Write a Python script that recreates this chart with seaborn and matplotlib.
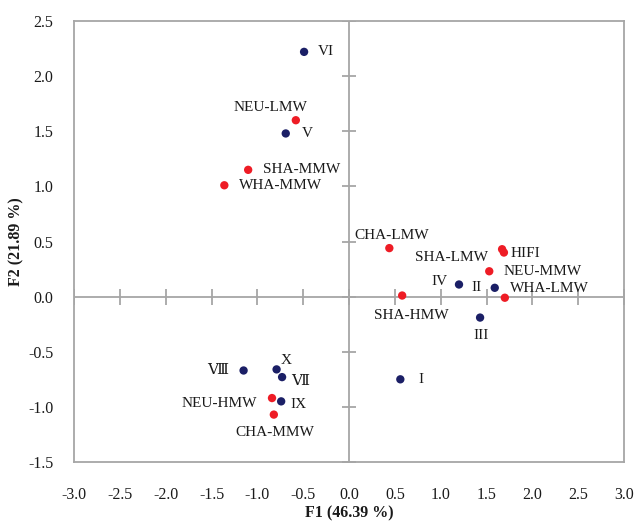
import matplotlib
matplotlib.use("Agg")
import matplotlib.pyplot as plt
import seaborn as sns
import pandas as pd
import numpy as np

# PCA scores on the first two factors
labels = ["VI", "NEU-LMW", "V", "SHA-MMW", "WHA-MMW", "CHA-LMW", "SHA-LMW", "HIFI",
          "NEU-MMW", "IV", "II", "WHA-LMW", "SHA-HMW", "III", "I", "Ⅷ", "X", "Ⅶ",
          "NEU-HMW", "IX", "CHA-MMW"]
f1 = [-0.49, -0.58, -0.69, -1.10, -1.36, 0.44, 1.67, 1.69,
      1.53, 1.20, 1.59, 1.70, 0.58, 1.43, 0.56, -1.15, -0.79, -0.73,
      -0.84, -0.74, -0.82]
f2 = [2.22, 1.60, 1.48, 1.15, 1.01, 0.44, 0.43, 0.40,
      0.23, 0.11, 0.08, -0.01, 0.01, -0.19, -0.75, -0.67, -0.66, -0.73,
      -0.92, -0.95, -1.07]
group = ["sample", "flour", "sample", "flour", "flour", "flour", "flour", "flour",
         "flour", "sample", "sample", "flour", "flour", "sample", "sample", "sample", "sample", "sample",
         "flour", "sample", "flour"]

x_ticks = np.arange(-3.0, 3.01, 0.5)
y_ticks = np.arange(-1.5, 2.51, 0.5)

# label placement: (dx, dy) in pixels, horizontal alignment
label_pos = {
    "VI": (14, 0, "left"), "NEU-LMW": (-25, 13, "center"), "V": (16, 0, "left"),
    "SHA-MMW": (15, 0, "left"), "WHA-MMW": (15, 0, "left"), "CHA-LMW": (2, 13, "center"),
    "SHA-LMW": (-14, -8, "right"), "HIFI": (7, -1, "left"), "NEU-MMW": (14, 0, "left"),
    "IV": (-11, 3, "right"), "II": (-13, 0, "right"), "WHA-LMW": (5, 9, "left"),
    "SHA-HMW": (9, -20, "center"), "III": (1, -18, "center"), "I": (18, 0, "left"),
    "Ⅷ": (-15, 0, "right"), "X": (4, 9, "left"), "Ⅶ": (9, -4, "left"),
    "NEU-HMW": (-15, -5, "right"), "IX": (9, -3, "left"), "CHA-MMW": (1, -18, "center"),
}

df = pd.DataFrame({"label": labels, "F1": f1, "F2": f2, "group": group})

sns.set_theme(style="white")
plt.rcParams["font.family"] = ["Liberation Serif", "DejaVu Serif"]

fig = plt.figure(figsize=(6.38, 5.23), dpi=100)
ax = fig.add_axes([74 / 638, 61 / 523, 550 / 638, 441 / 523])

grey = "#a6a6a6"
ax.axhline(0, color=grey, lw=1.3, zorder=1)
ax.axvline(0, color=grey, lw=1.3, zorder=1)
# tick marks crossing the centre axes
ax.plot(x_ticks, np.zeros_like(x_ticks), ls="none", marker="|", ms=11, mew=1.3, color=grey, zorder=1)
ax.plot(np.zeros_like(y_ticks), y_ticks, ls="none", marker="_", ms=10, mew=1.3, color=grey, zorder=1)

sns.scatterplot(data=df, x="F1", y="F2", hue="group",
                palette={"sample": "#1b1f66", "flour": "#ee1c25"},
                s=36, edgecolor="none", legend=False, ax=ax, zorder=3)

for lab, x, y in zip(labels, f1, f2):
    dx, dy, ha = label_pos[lab]
    ax.annotate(lab, (x, y), xytext=(dx, dy), textcoords="offset pixels",
                ha=ha, va="center", fontsize=11, color="#1a1a1a")

ax.set_xlim(-3.0, 3.0)
ax.set_ylim(-1.5, 2.5)
ax.set_xticks(x_ticks)
ax.set_yticks(y_ticks)
ax.set_xticklabels([f"{v:.1f}" for v in x_ticks])
ax.set_yticklabels([f"{v:.1f}" for v in y_ticks])
ax.tick_params(axis="both", length=0, labelsize=11.5, labelcolor="#1a1a1a")
ax.tick_params(axis="x", pad=18)
ax.tick_params(axis="y", pad=15)

for sp in ax.spines.values():
    sp.set_color(grey)
    sp.set_linewidth(1.3)

ax.set_xlabel("F1 (46.39 %)", fontsize=11.5, fontweight="bold", color="#1a1a1a")
ax.set_ylabel("F2 (21.89 %)", fontsize=11.5, fontweight="bold", color="#1a1a1a")
ax.xaxis.set_label_coords(0.5, -0.098)
ax.yaxis.set_label_coords(-0.09, 0.5)

fig.savefig("out.png", dpi=100)
